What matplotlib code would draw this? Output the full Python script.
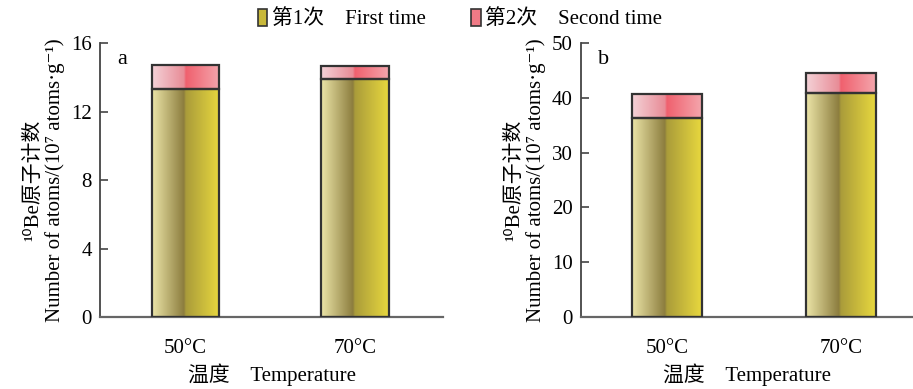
import numpy as np
import matplotlib
matplotlib.use('Agg')
import matplotlib.pyplot as plt
from matplotlib.colors import LinearSegmentedColormap
from matplotlib.patches import Patch

plt.rcParams['font.family'] = ['Liberation Serif', 'Noto Sans CJK SC', 'DejaVu Sans']

# data
temps = ['50°C', '70°C']
first_a = [13.3, 13.9]
second_a = [1.4, 0.75]
first_b = [36.3, 40.8]
second_b = [4.4, 3.7]
yticks_a = [0, 4, 8, 12, 16]
yticks_b = [0, 10, 20, 30, 40, 50]

# gradient fills (left half darkens to the middle, right half brightens)
yellow = LinearSegmentedColormap.from_list('yel', [
    (0.0, '#ece5a8'), (0.47, '#8c7d3e'), (0.5, '#aa9c3a'), (1.0, '#e8d83e')])
pink = LinearSegmentedColormap.from_list('pnk', [
    (0.0, '#f4d2d7'), (0.47, '#e88c97'), (0.5, '#f0606e'), (1.0, '#f4a6ad')])
grad = np.linspace(0, 1, 256).reshape(1, -1)

W = 0.4
edge = '#333333'


def draw_bar(ax, x, y0, h, cmap):
    ax.imshow(grad, cmap=cmap, extent=(x - W/2, x + W/2, y0, y0 + h),
              aspect='auto', interpolation='bilinear', zorder=2)
    ax.add_patch(plt.Rectangle((x - W/2, y0), W, h, fill=False,
                               ec=edge, lw=1.6, zorder=3))


def panel(ax, first, second, yticks, xlim, letter):
    x = np.arange(len(temps))
    for i in x:
        draw_bar(ax, i, 0, first[i], yellow)
        draw_bar(ax, i, first[i], second[i], pink)
    ax.set_xlim(*xlim)
    ax.set_ylim(yticks[0], yticks[-1])
    ax.set_yticks(yticks)
    ax.set_xticks(x)
    ax.set_xticklabels(temps)
    ax.tick_params(axis='y', direction='in', length=6, width=1.2,
                   labelsize=15, pad=6, color='#444')
    ax.tick_params(axis='x', length=0, labelsize=15, pad=16)
    for s in ['top', 'right']:
        ax.spines[s].set_visible(False)
    ax.spines['left'].set_color('#444')
    ax.spines['bottom'].set_color('#666')
    ax.spines['left'].set_linewidth(1.3)
    ax.spines['bottom'].set_linewidth(1.6)
    ax.set_xlabel('温度    Temperature', fontsize=15, labelpad=4)
    ax.set_ylabel('¹⁰Be原子计数\nNumber of atoms/(10⁷ atoms·g⁻¹)',
                  fontsize=15, labelpad=4, linespacing=1.15)
    ax.text(0.05, 0.94, letter, transform=ax.transAxes, fontsize=16,
            va='center', ha='left')


fig = plt.figure(figsize=(9.13, 3.89), dpi=100)
ax1 = fig.add_axes([100/913, 72/389, 343/913, 274/389])
ax2 = fig.add_axes([581/913, 72/389, 332/913, 274/389])
panel(ax1, first_a, second_a, yticks_a, (-0.504, 1.519), 'a')
panel(ax2, first_b, second_b, yticks_b, (-0.494, 1.414), 'b')

handles = [Patch(facecolor='#c8b83a', edgecolor=edge, lw=1.2),
           Patch(facecolor='#f07a86', edgecolor=edge, lw=1.2)]
fig.legend(handles, ['第1次    First time', '第2次    Second time'],
           loc='center', bbox_to_anchor=(460/913, 1 - 19/389), ncol=2,
           frameon=False, fontsize=15, handlelength=0.45, handleheight=0.9,
           handletextpad=0.2, columnspacing=2.2)

fig.savefig('out.png', dpi=100)
